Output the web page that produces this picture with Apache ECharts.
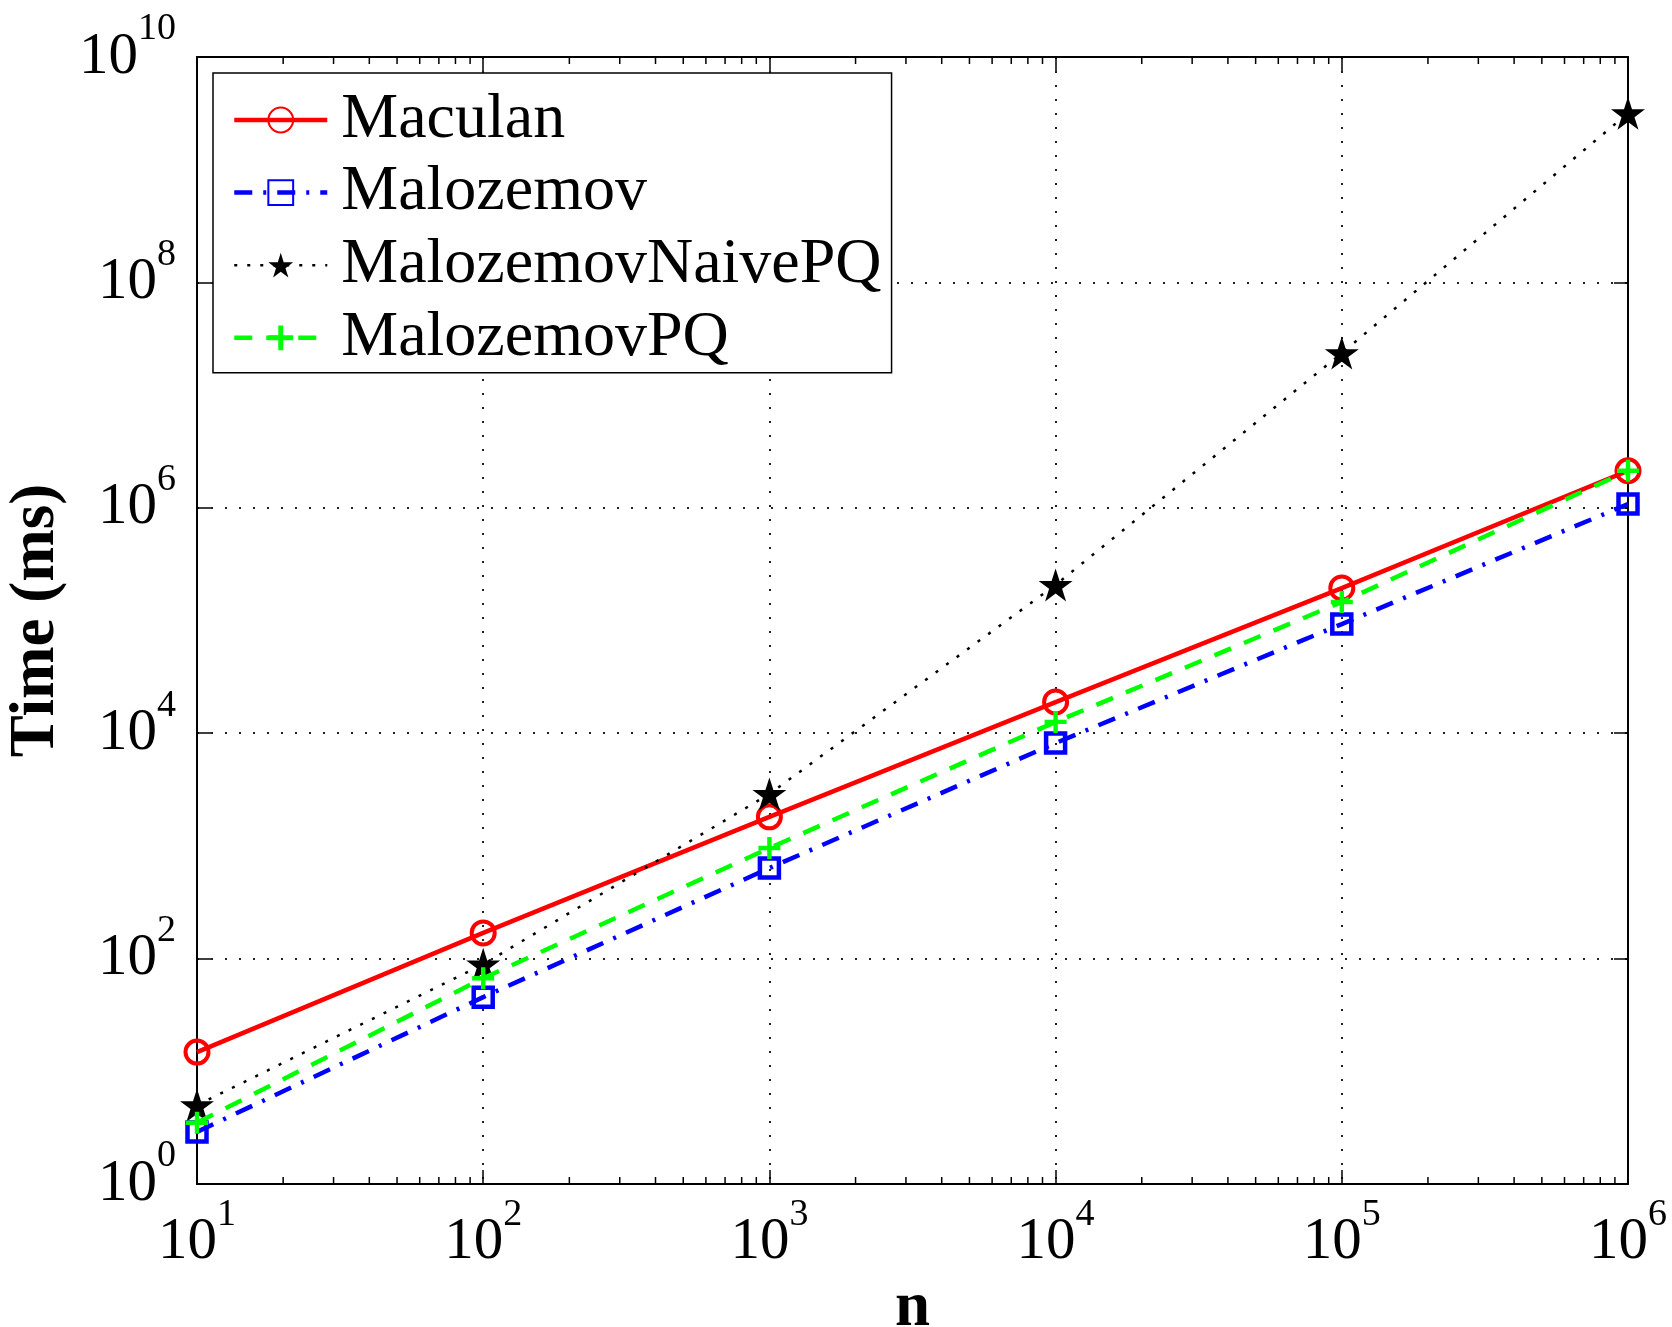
<!DOCTYPE html>
<html>
<head>
<meta charset="utf-8">
<title>Time vs n</title>
<script src="https://cdn.jsdelivr.net/npm/echarts@6/dist/echarts.min.js"></script>
<style>
  html, body { margin: 0; padding: 0; background: #fff; }
  #main { width: 1672px; height: 1327px; }
</style>
</head>
<body>
<div id="main"></div>
<script>
// problem sizes (x axis)
var nValues = [10, 100, 1000, 10000, 100000, 1000000];
// running times in ms
var maculan     = [14.8, 169, 1810, 18900, 194000, 2130000];
var malozemov   = [2.9, 45.5, 636, 8170, 93000, 1080000];
var naivePQ     = [5.0, 89, 2890, 207000, 23600000, 3170000000];
var malozemovPQ = [3.5, 67, 957, 12600, 146000, 2130000];
var seriesNames = ['Maculan', 'Malozemov', 'MalozemovNaivePQ', 'MalozemovPQ'];
// minor tick multipliers between decades
var minorSteps = [2, 3, 4, 5, 6, 7, 8, 9];

var FONT = "'Liberation Serif', 'Times New Roman', serif";

function pairs(ys) {
    var out = [];
    for (var i = 0; i < nValues.length; i++) {
        out.push([nValues[i], ys[i]]);
    }
    return out;
}

// minor tick values on the log x axis
var minorTicks = [];
for (var d = 10; d < 1000000; d *= 10) {
    for (var k = 0; k < minorSteps.length; k++) {
        minorTicks.push([d * minorSteps[k], 1]);
    }
}

function powLabel(v) {
    var e = Math.round(Math.log10(v));
    return '{b|10}{s|' + e + '}';
}
var powRich = {
    b: { fontSize: 59, height: 59, padding: [17, 0, 17, 0], fontFamily: FONT, color: '#000' },
    s: { fontSize: 38, height: 38, lineHeight: 38, verticalAlign: 'top', fontFamily: FONT, color: '#000' }
};

var starPath = 'path://M0,-100L22.45,-30.9L95.1,-30.9L36.3,11.8L58.8,80.9L0,38.2L-58.8,80.9L-36.3,11.8L-95.1,-30.9L-22.45,-30.9Z';
var plusPath = 'path://M8,0h4v8h8v4h-8v8h-4v-8h-8v-4h8z';

var myChart = echarts.init(document.getElementById('main'));

var option = {
    backgroundColor: '#fff',
    animation: false,
    grid: {
        left: 197,
        right: 44,
        top: 57,
        bottom: 143,
        outerBoundsMode: 'none'
    },
    legend: {
        orient: 'vertical',
        left: 213,
        top: 73,
        data: [
            { name: 'Maculan', lineStyle: { width: 4.5 } },
            { name: 'Malozemov', lineStyle: { width: 4.5 } },
            { name: 'MalozemovNaivePQ', lineStyle: { width: 2.5 } },
            { name: 'MalozemovPQ', lineStyle: { width: 4.5 } }
        ],
        selectedMode: false,
        backgroundColor: '#fff',
        borderColor: '#000',
        borderWidth: 1.5,
        padding: [15, 10, 3, 19],
        itemWidth: 93,
        itemHeight: 31,
        itemGap: 8.6,
        textStyle: {
            fontFamily: FONT,
            fontSize: 64,
            lineHeight: 64,
            color: '#000',
            padding: [0, 0, 0, 9]
        }
    },
    xAxis: [{
        type: 'log',
        logBase: 10,
        min: 10,
        max: 1000000,
        interval: 1,
        name: 'n',
        nameLocation: 'middle',
        nameGap: 83,
        nameTextStyle: { fontFamily: FONT, fontSize: 63, fontWeight: 'bold', color: '#000' },
        axisLine: { show: true, lineStyle: { color: '#000', width: 2 } },
        axisTick: { show: true, inside: true, length: 14, lineStyle: { color: '#000', width: 1.5 } },
        minorTick: { show: false },
        axisLabel: { formatter: powLabel, rich: powRich, margin: 12 },
        splitLine: { show: true, lineStyle: { color: '#222', width: 2, type: [2, 12] } }
    }, {
        type: 'log',
        logBase: 10,
        min: 10,
        max: 1000000,
        interval: 1,
        position: 'top',
        axisLine: { show: true, lineStyle: { color: '#000', width: 2 } },
        axisTick: { show: true, inside: true, length: 14, lineStyle: { color: '#000', width: 1.5 } },
        axisLabel: { show: false },
        splitLine: { show: false }
    }],
    yAxis: [{
        type: 'log',
        logBase: 10,
        min: 1,
        max: 10000000000,
        interval: 2,
        name: 'Time (ms)',
        nameLocation: 'middle',
        nameGap: 104,
        nameTextStyle: { fontFamily: FONT, fontSize: 63, fontWeight: 'bold', color: '#000' },
        axisLine: { show: true, lineStyle: { color: '#000', width: 2 } },
        axisTick: { show: true, inside: true, length: 14, lineStyle: { color: '#000', width: 1.5 } },
        minorTick: { show: false },
        axisLabel: { formatter: powLabel, rich: powRich, margin: 21 },
        splitLine: { show: true, lineStyle: { color: '#222', width: 2, type: [2, 12] } }
    }, {
        type: 'log',
        logBase: 10,
        min: 1,
        max: 10000000000,
        interval: 2,
        position: 'right',
        axisLine: { show: true, lineStyle: { color: '#000', width: 2 } },
        axisTick: { show: true, inside: true, length: 14, lineStyle: { color: '#000', width: 1.5 } },
        axisLabel: { show: false },
        splitLine: { show: false }
    }],
    series: [{
        name: 'Maculan',
        type: 'line',
        data: pairs(maculan),
        symbol: 'circle',
        symbolSize: 23,
        lineStyle: { color: '#ff0000', width: 4.5, type: 'solid' },
        itemStyle: { color: 'rgba(255,255,255,0)', borderColor: '#ff0000', borderWidth: 4 },
        z: 3
    }, {
        name: 'Malozemov',
        type: 'line',
        data: pairs(malozemov),
        symbol: 'rect',
        symbolSize: 19,
        lineStyle: { color: '#0000ff', width: 4.5, type: [18, 11, 3, 11], cap: 'butt' },
        itemStyle: { color: 'rgba(255,255,255,0)', borderColor: '#0000ff', borderWidth: 4.5 },
        z: 4
    }, {
        name: 'MalozemovNaivePQ',
        type: 'line',
        data: pairs(naivePQ),
        symbol: starPath,
        symbolSize: [34, 33],
        lineStyle: { color: '#000', width: 2.5, type: [3, 10], cap: 'butt' },
        itemStyle: { color: '#000' },
        z: 5
    }, {
        name: 'MalozemovPQ',
        type: 'line',
        data: pairs(malozemovPQ),
        symbol: plusPath,
        symbolSize: 22,
        lineStyle: { color: '#00ff00', width: 4.5, type: [18, 14], cap: 'butt' },
        itemStyle: { color: '#00ff00' },
        z: 6
    }, {
        // log minor ticks on bottom and top edges
        type: 'custom',
        silent: true,
        data: minorTicks,
        renderItem: function (params, api) {
            var v = api.value(0);
            var b = api.coord([v, 1]);
            var t = api.coord([v, 10000000000]);
            return {
                type: 'group',
                children: [{
                    type: 'line',
                    shape: { x1: b[0], y1: b[1], x2: b[0], y2: b[1] - 7 },
                    style: { stroke: '#000', lineWidth: 1.5 }
                }, {
                    type: 'line',
                    shape: { x1: t[0], y1: t[1], x2: t[0], y2: t[1] + 7 },
                    style: { stroke: '#000', lineWidth: 1.5 }
                }]
            };
        },
        z: 1
    }]
};
myChart.setOption(option);
</script>
</body>
</html>
